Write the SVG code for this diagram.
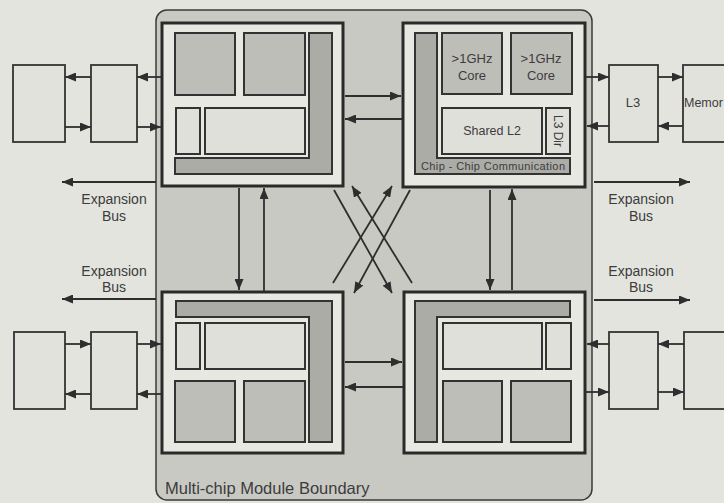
<svg xmlns="http://www.w3.org/2000/svg" width="724" height="503" viewBox="0 0 724 503">
<defs>
<marker id="ah" markerUnits="userSpaceOnUse" markerWidth="11" markerHeight="9" refX="11" refY="4.5" orient="auto">
<path d="M0,0 L11,4.5 L0,9 z" fill="#2e2e2e"/>
</marker>
<style>
.bg{fill:#e4e4df}
.mcm{fill:#c9c9c4;stroke:#3a3a3a;stroke-width:1.5}
.chip{fill:#e8e8e3;stroke:#2a2a2a;stroke-width:3}
.core{fill:#bebeb9;stroke:#333;stroke-width:2}
.bar{fill:#acaca7;stroke:#333;stroke-width:2}
.box{fill:#e0e0db;stroke:#333;stroke-width:2}
.ext{fill:#e2e2dd;stroke:#333;stroke-width:1.8}
.c line{stroke:#2e2e2e;stroke-width:1.8;marker-end:url(#ah)}
.t{font-family:"Liberation Sans",Arial,sans-serif;fill:#3c3c3c;text-anchor:middle}
</style>
</defs>
<rect class="bg" x="0" y="0" width="724" height="503"/>
<g id="mcm">
<rect class="mcm" x="156" y="10" width="436" height="490" rx="11"/>
<text class="t" x="165" y="494" font-size="16.5" style="text-anchor:start">Multi-chip Module Boundary</text>
</g>
<g id="chip-tl">
<rect class="chip" x="162" y="23" width="181" height="163"/>
<rect class="core" x="175" y="33" width="60" height="62"/>
<rect class="core" x="244" y="33" width="61" height="62"/>
<path class="bar" d="M309,33 H332 V174 H175 V158 H309 Z"/>
<rect class="box" x="176" y="108" width="24" height="46"/>
<rect class="box" x="205" y="108" width="100" height="46"/>
</g>
<g id="chip-tr">
<rect class="chip" x="403" y="23" width="182" height="164"/>
<path class="bar" d="M415,33 H437 V158 H570 V174 H415 Z"/>
<rect class="core" x="442" y="33" width="60" height="61"/>
<rect class="core" x="511" y="33" width="61" height="61"/>
<rect class="box" x="442" y="108" width="100" height="46"/>
<rect class="box" x="546" y="108" width="24" height="46"/>
<text class="t" x="472" y="63" font-size="13">&gt;1GHz</text>
<text class="t" x="472" y="80" font-size="13">Core</text>
<text class="t" x="541" y="63" font-size="13">&gt;1GHz</text>
<text class="t" x="541" y="80" font-size="13">Core</text>
<text class="t" x="492" y="135" font-size="12.5">Shared L2</text>
<text class="t" x="0" y="0" font-size="12" transform="translate(554,131) rotate(90)">L3 Dir</text>
<text class="t" x="493" y="170" font-size="11" textLength="144">Chip - Chip Communication</text>
</g>
<g id="chip-bl">
<rect class="chip" x="162" y="292" width="181" height="161"/>
<path class="bar" d="M176,301 H332 V442 H309 V317 H176 Z"/>
<rect class="box" x="176" y="323" width="24" height="46"/>
<rect class="box" x="205" y="323" width="100" height="46"/>
<rect class="core" x="175" y="381" width="60" height="61"/>
<rect class="core" x="244" y="381" width="61" height="61"/>
</g>
<g id="chip-br">
<rect class="chip" x="404" y="292" width="181" height="161"/>
<path class="bar" d="M415,301 H570 V317 H437 V442 H415 Z"/>
<rect class="box" x="443" y="323" width="99" height="46"/>
<rect class="box" x="546" y="323" width="25" height="46"/>
<rect class="core" x="443" y="381" width="59" height="61"/>
<rect class="core" x="511" y="381" width="60" height="61"/>
</g>
<g id="ext-tl1"><rect class="ext" x="13" y="65" width="52" height="77"/></g>
<g id="ext-tl2"><rect class="ext" x="91" y="65" width="46" height="77"/></g>
<g id="ext-bl1"><rect class="ext" x="14" y="332" width="51" height="77"/></g>
<g id="ext-bl2"><rect class="ext" x="91" y="332" width="46" height="77"/></g>
<g id="l3"><rect class="ext" x="609" y="65" width="49" height="77"/><text class="t" x="633" y="107" font-size="13">L3</text></g>
<g id="memory"><rect class="ext" x="683" y="65" width="60" height="77"/><text class="t" x="684" y="107" font-size="12.5" style="text-anchor:start">Memor</text></g>
<g id="ext-br1"><rect class="ext" x="609" y="332" width="49" height="77"/></g>
<g id="ext-br2"><rect class="ext" x="684" y="332" width="60" height="77"/></g>
<g id="labels">
<text class="t" x="114" y="204" font-size="14">Expansion</text>
<text class="t" x="114" y="221" font-size="14">Bus</text>
<text class="t" x="114" y="276" font-size="14">Expansion</text>
<text class="t" x="114" y="292" font-size="14">Bus</text>
<text class="t" x="641" y="204" font-size="14">Expansion</text>
<text class="t" x="641" y="221" font-size="14">Bus</text>
<text class="t" x="641" y="276" font-size="14">Expansion</text>
<text class="t" x="641" y="292" font-size="14">Bus</text>
</g>
<g id="connectors" class="c">
<line x1="161" y1="77" x2="137" y2="77"/>
<line x1="91" y1="77" x2="65" y2="77"/>
<line x1="65" y1="127" x2="91" y2="127"/>
<line x1="137" y1="127" x2="161" y2="127"/>
<line x1="156" y1="182" x2="62" y2="182"/>
<line x1="156" y1="299" x2="62" y2="299"/>
<line x1="65" y1="344" x2="91" y2="344"/>
<line x1="137" y1="344" x2="161" y2="344"/>
<line x1="161" y1="394" x2="137" y2="394"/>
<line x1="91" y1="394" x2="65" y2="394"/>
<line x1="345" y1="96" x2="401" y2="96"/>
<line x1="402" y1="119" x2="345" y2="119"/>
<line x1="345" y1="362" x2="402" y2="362"/>
<line x1="403" y1="387" x2="345" y2="387"/>
<line x1="239" y1="188" x2="239" y2="290"/>
<line x1="264" y1="291" x2="264" y2="188"/>
<line x1="490" y1="190" x2="490" y2="290"/>
<line x1="512" y1="290" x2="512" y2="189"/>
<line x1="334" y1="190" x2="392" y2="293"/>
<line x1="412" y1="283" x2="352" y2="186"/>
<line x1="410" y1="190" x2="354" y2="293"/>
<line x1="333" y1="283" x2="392" y2="186"/>
<line x1="586" y1="77" x2="609" y2="77"/>
<line x1="658" y1="77" x2="683" y2="77"/>
<line x1="683" y1="126" x2="658" y2="126"/>
<line x1="609" y1="126" x2="587" y2="126"/>
<line x1="594" y1="182" x2="690" y2="182"/>
<line x1="594" y1="300" x2="690" y2="300"/>
<line x1="684" y1="344" x2="658" y2="344"/>
<line x1="609" y1="344" x2="587" y2="344"/>
<line x1="586" y1="392" x2="609" y2="392"/>
<line x1="658" y1="392" x2="684" y2="392"/>
</g>
</svg>
